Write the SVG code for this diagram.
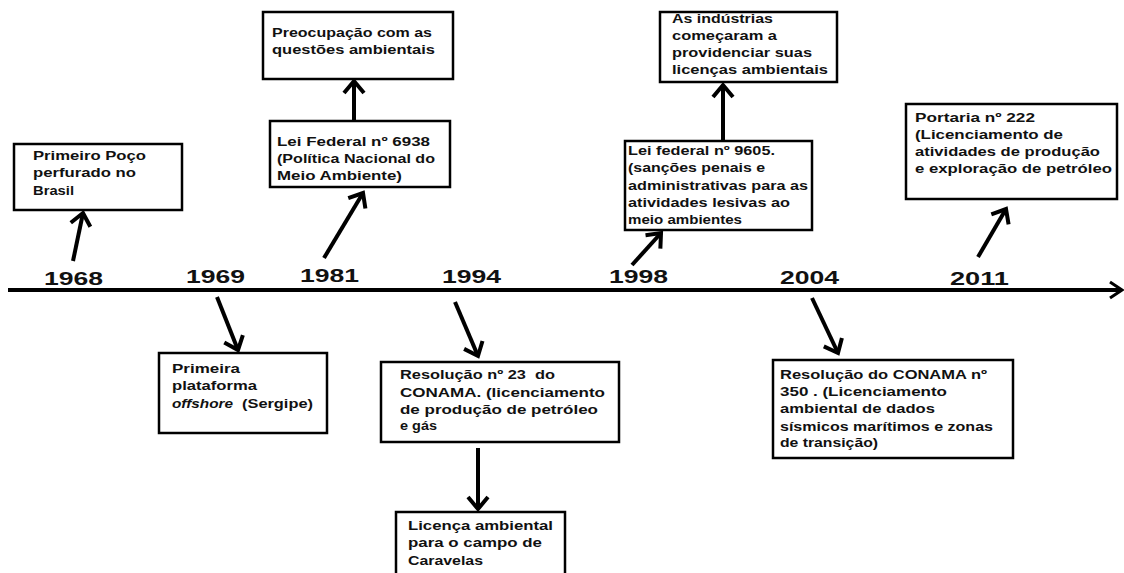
<svg xmlns="http://www.w3.org/2000/svg" width="1124" height="573" viewBox="0 0 1124 573">
<defs>
<style>
.box{fill:#fff;stroke:#000;stroke-width:2.5}
.t{font-family:"Liberation Sans",Arial,sans-serif;font-weight:bold;font-size:13.5px;fill:#111}
.yr{font-family:"Liberation Sans",Arial,sans-serif;font-weight:bold;font-size:18px;fill:#111}
.c{stroke:#000;stroke-width:4;fill:none}
</style>
<marker id="ah" viewBox="-16 -14 20 28" refX="0" refY="0" markerWidth="20" markerHeight="28" markerUnits="userSpaceOnUse" orient="auto">
<path d="M-12,-10 L0,0 L-12,10" fill="none" stroke="#000" stroke-width="4"/>
</marker>
</defs>
<rect width="1124" height="573" fill="#fff"/>

<g id="axis">
<line x1="8" y1="290" x2="1121" y2="290" stroke="#000" stroke-width="4"/>
<polyline points="1110,282 1122,290 1110,298" fill="none" stroke="#000" stroke-width="3"/>
</g>

<g id="years">
<text class="yr" x="44" y="285" textLength="59" lengthAdjust="spacingAndGlyphs">1968</text>
<text class="yr" x="186" y="283" textLength="59" lengthAdjust="spacingAndGlyphs">1969</text>
<text class="yr" x="300" y="282" textLength="59" lengthAdjust="spacingAndGlyphs">1981</text>
<text class="yr" x="442" y="283" textLength="59" lengthAdjust="spacingAndGlyphs">1994</text>
<text class="yr" x="609" y="283" textLength="59" lengthAdjust="spacingAndGlyphs">1998</text>
<text class="yr" x="780" y="284" textLength="59" lengthAdjust="spacingAndGlyphs">2004</text>
<text class="yr" x="950" y="285" textLength="59" lengthAdjust="spacingAndGlyphs">2011</text>
</g>

<g id="connectors">
<line class="c" x1="73" y1="261" x2="83" y2="213" marker-end="url(#ah)"/>
<line class="c" x1="324" y1="258" x2="363" y2="193" marker-end="url(#ah)"/>
<line class="c" x1="354" y1="120" x2="354" y2="81" marker-end="url(#ah)"/>
<line class="c" x1="632" y1="265" x2="661" y2="233" marker-end="url(#ah)"/>
<line class="c" x1="723" y1="140" x2="723" y2="85" marker-end="url(#ah)"/>
<line class="c" x1="978" y1="257" x2="1006" y2="209" marker-end="url(#ah)"/>
<line class="c" x1="217" y1="297" x2="238" y2="350" marker-end="url(#ah)"/>
<line class="c" x1="455" y1="302" x2="478" y2="356" marker-end="url(#ah)"/>
<line class="c" x1="478" y1="448" x2="478" y2="509" marker-end="url(#ah)"/>
<line class="c" x1="812" y1="298" x2="838" y2="353" marker-end="url(#ah)"/>
</g>

<g id="n1968">
<rect class="box" x="14" y="144" width="168" height="66"/>
<text class="t" x="33" y="160" textLength="113" lengthAdjust="spacingAndGlyphs">Primeiro Poço</text>
<text class="t" x="33" y="177" textLength="103" lengthAdjust="spacingAndGlyphs">perfurado no</text>
<text class="t" x="33" y="195" textLength="41" lengthAdjust="spacingAndGlyphs">Brasil</text>
</g>

<g id="nPreocupacao">
<rect class="box" x="263" y="12" width="190" height="67"/>
<text class="t" x="272" y="37" textLength="160" lengthAdjust="spacingAndGlyphs">Preocupação com as</text>
<text class="t" x="272" y="54" textLength="163" lengthAdjust="spacingAndGlyphs">questões ambientais</text>
</g>

<g id="n1981">
<rect class="box" x="270" y="121" width="180" height="66"/>
<text class="t" x="277" y="146" textLength="153" lengthAdjust="spacingAndGlyphs">Lei Federal nº 6938</text>
<text class="t" x="277" y="163" textLength="158" lengthAdjust="spacingAndGlyphs">(Política Nacional do</text>
<text class="t" x="277" y="180" textLength="125" lengthAdjust="spacingAndGlyphs">Meio Ambiente)</text>
</g>

<g id="nIndustrias">
<rect class="box" x="660" y="12" width="177" height="70"/>
<text class="t" x="672" y="23" textLength="101" lengthAdjust="spacingAndGlyphs">As indústrias</text>
<text class="t" x="672" y="40" textLength="105" lengthAdjust="spacingAndGlyphs">começaram a</text>
<text class="t" x="672" y="57" textLength="140" lengthAdjust="spacingAndGlyphs">providenciar suas</text>
<text class="t" x="672" y="74" textLength="156" lengthAdjust="spacingAndGlyphs">licenças ambientais</text>
</g>

<g id="n1998">
<rect class="box" x="625" y="141" width="187" height="89"/>
<text class="t" x="628" y="155" textLength="147" lengthAdjust="spacingAndGlyphs">Lei federal nº 9605.</text>
<text class="t" x="628" y="172" textLength="137" lengthAdjust="spacingAndGlyphs">(sanções penais e</text>
<text class="t" x="628" y="190" textLength="180" lengthAdjust="spacingAndGlyphs">administrativas para as</text>
<text class="t" x="628" y="207" textLength="162" lengthAdjust="spacingAndGlyphs">atividades lesivas ao</text>
<text class="t" x="628" y="224" textLength="114" lengthAdjust="spacingAndGlyphs">meio ambientes</text>
</g>

<g id="n2011">
<rect class="box" x="906" y="104" width="211" height="95"/>
<text class="t" x="915" y="122" textLength="120" lengthAdjust="spacingAndGlyphs">Portaria nº 222</text>
<text class="t" x="915" y="139" textLength="148" lengthAdjust="spacingAndGlyphs">(Licenciamento de</text>
<text class="t" x="915" y="156" textLength="185" lengthAdjust="spacingAndGlyphs">atividades de produção</text>
<text class="t" x="915" y="173" textLength="197" lengthAdjust="spacingAndGlyphs">e exploração de petróleo</text>
</g>

<g id="n1969">
<rect class="box" x="159" y="353" width="168" height="80"/>
<text class="t" x="172" y="373" textLength="68" lengthAdjust="spacingAndGlyphs">Primeira</text>
<text class="t" x="172" y="390" textLength="85" lengthAdjust="spacingAndGlyphs">plataforma</text>
<text class="t" x="172" y="408" textLength="61" lengthAdjust="spacingAndGlyphs" font-style="italic">offshore</text>
<text class="t" x="242" y="408" textLength="71" lengthAdjust="spacingAndGlyphs">(Sergipe)</text>
</g>

<g id="n1994">
<rect class="box" x="381" y="362" width="238" height="80"/>
<text class="t" x="400" y="379" textLength="155" lengthAdjust="spacingAndGlyphs">Resolução nº 23&#160; do</text>
<text class="t" x="400" y="397" textLength="205" lengthAdjust="spacingAndGlyphs">CONAMA. (licenciamento</text>
<text class="t" x="400" y="414" textLength="198" lengthAdjust="spacingAndGlyphs">de produção de petróleo</text>
<text class="t" x="400" y="430" textLength="37" lengthAdjust="spacingAndGlyphs">e gás</text>
</g>

<g id="nCaravelas">
<rect class="box" x="396" y="512" width="169" height="70"/>
<text class="t" x="408" y="530" textLength="145" lengthAdjust="spacingAndGlyphs">Licença ambiental</text>
<text class="t" x="408" y="547" textLength="134" lengthAdjust="spacingAndGlyphs">para o campo de</text>
<text class="t" x="408" y="565" textLength="75" lengthAdjust="spacingAndGlyphs">Caravelas</text>
</g>

<g id="n2004">
<rect class="box" x="773" y="360" width="240" height="98"/>
<text class="t" x="780" y="379" textLength="207" lengthAdjust="spacingAndGlyphs">Resolução do CONAMA nº</text>
<text class="t" x="780" y="396" textLength="167" lengthAdjust="spacingAndGlyphs">350 . (Licenciamento</text>
<text class="t" x="780" y="413" textLength="155" lengthAdjust="spacingAndGlyphs">ambiental de dados</text>
<text class="t" x="780" y="431" textLength="213" lengthAdjust="spacingAndGlyphs">sísmicos marítimos e zonas</text>
<text class="t" x="780" y="447" textLength="98" lengthAdjust="spacingAndGlyphs">de transição)</text>
</g>
</svg>
